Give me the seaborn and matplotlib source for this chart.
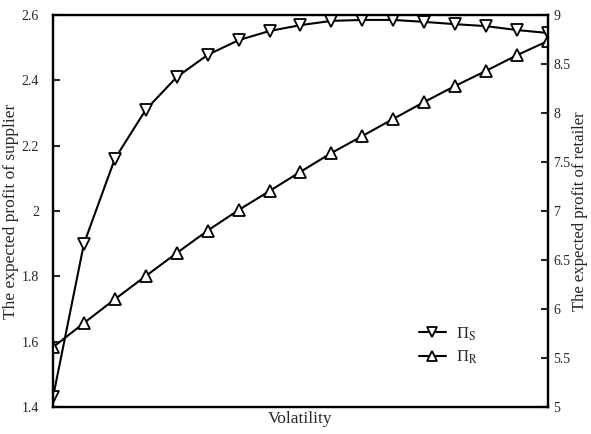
import numpy as np
import pandas as pd
import seaborn as sns
import matplotlib
matplotlib.use('Agg')
import matplotlib.pyplot as plt

# Data (17 volatility steps, no x tick labels)
volatility = list(range(17))
supplier_profit = [1.43, 1.90, 2.16, 2.31, 2.41, 2.478, 2.523, 2.551, 2.569,
                   2.582, 2.585, 2.585, 2.579, 2.572, 2.566, 2.554, 2.545]
retailer_profit = [5.61, 5.857, 6.10, 6.337, 6.571, 6.80, 7.01, 7.204, 7.40,
                   7.592, 7.765, 7.94, 8.112, 8.276, 8.43, 8.59, 8.735]
left_ticks = [1.4, 1.6, 1.8, 2.0, 2.2, 2.4, 2.6]
left_labels = ['1.4', '1.6', '1.8', '2', '2.2', '2.4', '2.6']
right_ticks = [5, 5.5, 6, 6.5, 7, 7.5, 8, 8.5, 9]
right_labels = ['5', '5.5', '6', '6.5', '7', '7.5', '8', '8.5', '9']

df = pd.DataFrame({'Volatility': volatility,
                   'Supplier': supplier_profit,
                   'Retailer': retailer_profit})

sns.set_style('ticks')
plt.rcParams['font.family'] = ['Liberation Serif', 'DejaVu Serif']
plt.rcParams['mathtext.fontset'] = 'stix'

fig = plt.figure(figsize=(5.91, 4.34), dpi=100)
ax = fig.add_axes([0.0897, 0.0622, 0.8373, 0.9032])
ax2 = ax.twinx()

mk = dict(color='black', linewidth=1.5, markersize=9, markerfacecolor='white',
          markeredgecolor='black', markeredgewidth=1.3)
sns.lineplot(data=df, x='Volatility', y='Supplier', ax=ax, marker='v',
             label='Π$_\\mathrm{S}$', legend=False, **mk)
sns.lineplot(data=df, x='Volatility', y='Retailer', ax=ax2, marker='^',
             label='Π$_\\mathrm{R}$', legend=False, **mk)

ax.set_xlim(0, 16)
ax.set_ylim(1.4, 2.6)
ax2.set_ylim(5, 9)
ax.set_xticks([])
ax.set_yticks(left_ticks)
ax.set_yticklabels(left_labels)
ax2.set_yticks(right_ticks)
ax2.set_yticklabels(right_labels)

ax.set_xlabel('Volatility', fontsize=12.5, labelpad=3)
ax.set_ylabel('The expected profit of supplier', fontsize=12.5, labelpad=2)
ax2.set_ylabel('The expected profit of retailer', fontsize=12, labelpad=1)

ax.tick_params(axis='y', direction='in', length=5, width=1.5,
               labelsize=10, pad=10)
ax2.tick_params(axis='y', direction='in', length=5, width=1.5,
                labelsize=10, pad=4)
for a in (ax, ax2):
    for s in a.spines.values():
        s.set_linewidth(1.6)
        s.set_color('black')
    a.spines['top'].set_visible(True)
    a.spines['right'].set_visible(True)

h1, l1 = ax.get_legend_handles_labels()
h2, l2 = ax2.get_legend_handles_labels()
ax2.legend(h1 + h2, l1 + l2, loc='lower left', bbox_to_anchor=(0.709, 0.067),
           frameon=False, fontsize=12, handlelength=1.6, handletextpad=0.6,
           labelspacing=0.35, markerscale=0.75)

fig.savefig('out.png', dpi=100)
